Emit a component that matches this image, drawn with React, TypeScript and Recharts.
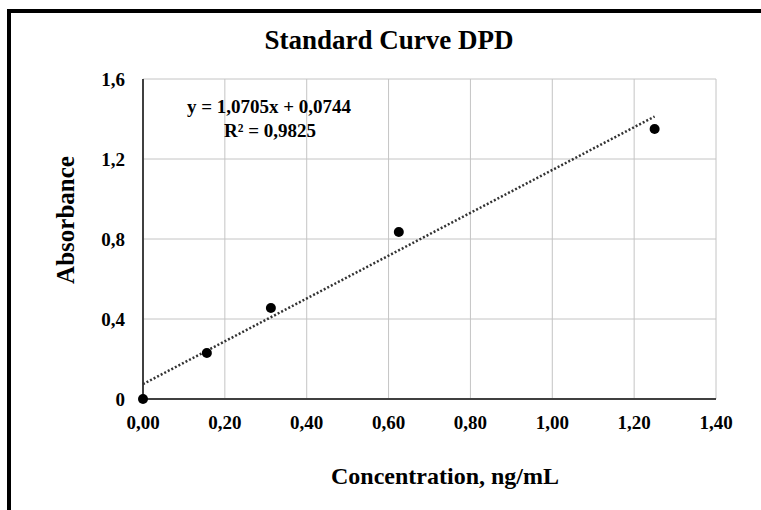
import { ScatterChart, Scatter, XAxis, YAxis, CartesianGrid } from "recharts";

// Calibration standards: concentration (ng/mL) vs measured absorbance
const concentrations = [0, 0.156, 0.3125, 0.625, 1.25];
const absorbances = [0, 0.23, 0.455, 0.835, 1.35];

// Linear fit reported for the standards
const slope = 1.0705;
const intercept = 0.0744;
const rSquared = 0.9825;
const fitRange = [0, 1.25];

const xTicks = [0, 0.2, 0.4, 0.6, 0.8, 1.0, 1.2, 1.4];
const yTicks = [0, 0.4, 0.8, 1.2, 1.6];

const points = concentrations.map((x, i) => ({ x, y: absorbances[i] }));
const trend = fitRange.map((x) => ({ x, y: slope * x + intercept }));

const serif = "'Liberation Serif', 'Times New Roman', serif";
const comma = (v: number, digits: number) => v.toFixed(digits).replace(".", ",");

const tickStyle = { fill: "#000", fontSize: 19, fontWeight: "bold", fontFamily: serif };
const axisStyle = { stroke: "#404040", strokeWidth: 2 };

const Dot = (props: any) => <circle cx={props.cx} cy={props.cy} r={5} fill="#000" />;
const NoDot = () => <g />;

export default function App() {
  return (
    <div style={{ position: "absolute", left: 0, top: 0, width: 761, height: 510, background: "#fff" }}>
      {/* frame around the figure */}
      <div style={{ position: "absolute", left: 7, top: 9, width: 754, height: 4, background: "#000" }} />
      <div style={{ position: "absolute", left: 7, top: 9, width: 4, height: 501, background: "#000" }} />
      <div style={{ position: "absolute", left: 0, top: 0 }}>
        <ScatterChart width={761} height={510} margin={{ top: 79, right: 45, bottom: 0, left: 0 }}>
          <CartesianGrid stroke="#c4c4c4" strokeWidth={1} />
          <XAxis
            type="number"
            dataKey="x"
            domain={[0, 1.4]}
            ticks={xTicks}
            tickFormatter={(v) => comma(v, 2)}
            height={111}
            axisLine={axisStyle}
            tickLine={false}
            tickMargin={11}
            tick={tickStyle}
            interval={0}
          />
          <YAxis
            type="number"
            dataKey="y"
            domain={[0, 1.6]}
            ticks={yTicks}
            tickFormatter={(v) => (v === 0 ? "0" : comma(v, 1))}
            width={143}
            axisLine={axisStyle}
            tickLine={false}
            tickMargin={12}
            tick={tickStyle}
            interval={0}
          />
          <Scatter
            data={trend}
            line={{ stroke: "#333", strokeWidth: 2.5, strokeDasharray: "2 2" }}
            lineType="joint"
            shape={NoDot}
            isAnimationActive={false}
          />
          <Scatter data={points} shape={Dot} isAnimationActive={false} />
        </ScatterChart>
      </div>
      <svg width={761} height={510} style={{ position: "absolute", left: 0, top: 0, pointerEvents: "none" }}>
        <g fontFamily={serif} fontWeight="bold" fill="#000">
          <text x={389} y={49} fontSize={27} textAnchor="middle">
            Standard Curve DPD
          </text>
          <text x={269} y={113} fontSize={19} textAnchor="middle">
            {`y = ${comma(slope, 4)}x + ${comma(intercept, 4)}`}
          </text>
          <text x={270} y={137} fontSize={19} textAnchor="middle">
            {`R² = ${comma(rSquared, 4)}`}
          </text>
          <text x={445} y={484} fontSize={24} textAnchor="middle">
            Concentration, ng/mL
          </text>
          <text x={65} y={220} dy="0.35em" fontSize={25} textAnchor="middle" transform="rotate(-90 65 220)">
            Absorbance
          </text>
        </g>
      </svg>
    </div>
  );
}
